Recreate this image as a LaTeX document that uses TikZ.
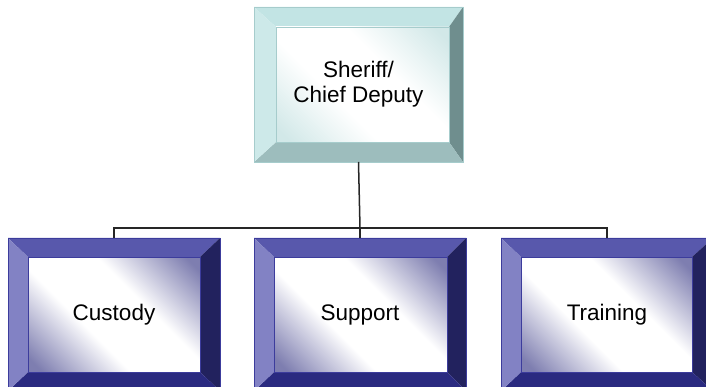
\documentclass[tikz,border=0pt]{standalone}
\usepackage{fontspec}
\setmainfont{Liberation Sans}
\usepackage{tikz}

\definecolor{headtop}{HTML}{C2E4E4}
\definecolor{headleft}{HTML}{CDE9E9}
\definecolor{headright}{HTML}{6F8E8E}
\definecolor{headbottom}{HTML}{9DBDBD}
\definecolor{headedge}{HTML}{A6CCCC}
\definecolor{headshade}{HTML}{D2E8E8}
\definecolor{unittop}{HTML}{5858AC}
\definecolor{unitleft}{HTML}{8282C4}
\definecolor{unitright}{HTML}{22225E}
\definecolor{unitbottom}{HTML}{2A2A80}
\definecolor{unitedge}{HTML}{3C3C9C}
\definecolor{unitshade}{HTML}{7E7EB0}

\pgfdeclareverticalshading{headglow}{100bp}{
    color(0bp)=(headshade); color(18bp)=(headshade); color(40bp)=(white);
    color(60bp)=(white); color(82bp)=(headshade); color(100bp)=(headshade)}
\pgfdeclareverticalshading{unitglow}{100bp}{
    color(0bp)=(unitshade); color(18bp)=(unitshade); color(40bp)=(white);
    color(60bp)=(white); color(82bp)=(unitshade); color(100bp)=(unitshade)}

\tikzset{
    headface/.style={shading=headglow, shading angle=-45},
    unitface/.style={shading=unitglow, shading angle=-45},
    boxtext/.style={inner sep=0pt, outer sep=0pt, align=center,
        font=\fontsize{22.5}{25}\selectfont},
    orgline/.style={draw=black!85, line width=1.5pt}
}

% #1 name, #2 colour set, #3,#4 upper left, #5,#6 lower right,
% #7 left bevel, #8 right bevel, #9 top/bottom bevel
\newcommand{\bevelbox}[9]{%
    \fill[#2top] (#3,#4) -- (#5,#4) -- (#5-#8,#4+#9) -- (#3+#7,#4+#9) -- cycle;
    \fill[#2right] (#5,#4) -- (#5,#6) -- (#5-#8,#6-#9) -- (#5-#8,#4+#9) -- cycle;
    \fill[#2bottom] (#5,#6) -- (#3,#6) -- (#3+#7,#6-#9) -- (#5-#8,#6-#9) -- cycle;
    \fill[#2left] (#3,#6) -- (#3,#4) -- (#3+#7,#4+#9) -- (#3+#7,#6-#9) -- cycle;
    \shade[#2face] (#3+#7,#4+#9) rectangle (#5-#8,#6-#9);
    \draw[#2edge, line width=0.6pt] (#3,#4) rectangle (#5,#6);
    \draw[#2edge, line width=0.6pt] (#3+#7,#4+#9) rectangle (#5-#8,#6-#9);
}

\begin{document}
\begin{tikzpicture}[x=1pt, y=-1pt]
    \path[use as bounding box, clip] (0,0) rectangle (706,387);

    % boxes
    \bevelbox{sheriff}{head}{254}{7}{463}{162}{22}{14}{20}
    \bevelbox{custody}{unit}{8}{238}{220}{391}{20}{20}{19}
    \bevelbox{support}{unit}{254}{238}{466}{391}{20}{19}{19}
    \bevelbox{training}{unit}{501}{238}{713}{391}{20}{21}{19}

    \node [boxtext, minimum width=209pt, minimum height=155pt] (sheriff) at (358.5,84.5) {Sheriff/\\Chief Deputy};
    \node [boxtext, minimum width=212pt, minimum height=153pt] (custody) at (114,314.5) {Custody};
    \node [boxtext, minimum width=212pt, minimum height=153pt] (support) at (360,314.5) {Support};
    \node [boxtext, minimum width=212pt, minimum height=153pt] (training) at (607,314.5) {Training};

    % connectors
    \coordinate (branch) at (360,228);
    \draw [orgline] (sheriff.south) -- (branch);
    \draw [orgline] (branch) -- (support.north);
    \draw [orgline] (branch) -| (custody.north);
    \draw [orgline] (branch) -| (training.north);

\end{tikzpicture}
\end{document}
